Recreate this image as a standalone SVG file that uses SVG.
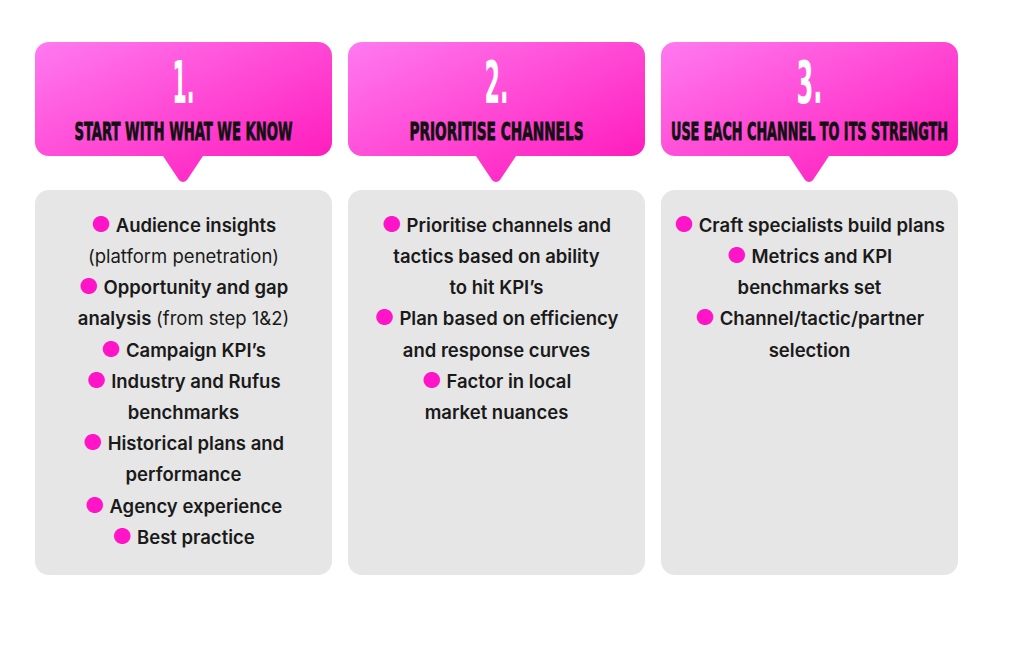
<svg xmlns="http://www.w3.org/2000/svg" width="1024" height="660" viewBox="0 0 1024 660">
<defs>
<linearGradient id="g" x1="0" y1="0" x2="1" y2="1">
<stop offset="0" stop-color="#ff7af0"/><stop offset="1" stop-color="#ff14b8"/>
</linearGradient>
<path id="hdr" d="M14,0 H283 A14,14 0 0 1 297,14 V100 A14,14 0 0 1 283,114 H168 L152,138 Q148,142 144,138 L128,114 H14 A14,14 0 0 1 0,100 V14 A14,14 0 0 1 14,0 Z" fill="url(#g)"/>
</defs>
<style>
.bg{fill:#fff}
.body{fill:#e6e6e6}
.num{font-family:"DejaVu Sans Condensed","DejaVu Sans",sans-serif;font-stretch:condensed;font-weight:bold;font-size:58px;fill:#fff;text-anchor:middle}
.ttl{font-family:"DejaVu Sans Condensed","DejaVu Sans",sans-serif;font-stretch:condensed;font-weight:bold;font-size:25px;fill:#111;stroke:#111;stroke-width:0.8;text-anchor:middle}
.t{font-family:Inter,"Liberation Sans",sans-serif;font-weight:600;font-size:18.5px;fill:#1a1a1a;text-anchor:middle}
.r{font-weight:400}
.b{fill:#ff14c8;font-size:22px;font-weight:400}
</style>
<rect class="bg" width="1024" height="660"/>
<g id="col1">
<use href="#hdr" x="35" y="42"/>
<text class="num" x="183.5" y="103" textLength="22" lengthAdjust="spacingAndGlyphs">1.</text>
<text class="ttl" x="183.5" y="140" textLength="218" lengthAdjust="spacingAndGlyphs">START WITH WHAT WE KNOW</text>
<rect class="body" x="35" y="190" width="297" height="385" rx="14"/>
<text class="t" x="183.5" y="232"><tspan class="b">●</tspan> Audience insights</text>
<text class="t r" x="183.5" y="263">(platform penetration)</text>
<text class="t" x="183.5" y="294"><tspan class="b">●</tspan> Opportunity and gap</text>
<text class="t" x="183.5" y="325">analysis <tspan class="r">(from step 1&amp;2)</tspan></text>
<text class="t" x="183.5" y="357"><tspan class="b">●</tspan> Campaign KPI’s</text>
<text class="t" x="183.5" y="388"><tspan class="b">●</tspan> Industry and Rufus</text>
<text class="t" x="183.5" y="419">benchmarks</text>
<text class="t" x="183.5" y="450"><tspan class="b">●</tspan> Historical plans and</text>
<text class="t" x="183.5" y="481">performance</text>
<text class="t" x="183.5" y="513"><tspan class="b">●</tspan> Agency experience</text>
<text class="t" x="183.5" y="544"><tspan class="b">●</tspan> Best practice</text>
</g>
<g id="col2">
<use href="#hdr" x="348" y="42"/>
<text class="num" x="496.5" y="103" textLength="24" lengthAdjust="spacingAndGlyphs">2.</text>
<text class="ttl" x="496.5" y="140" textLength="174" lengthAdjust="spacingAndGlyphs">PRIORITISE CHANNELS</text>
<rect class="body" x="348" y="190" width="297" height="385" rx="14"/>
<text class="t" x="496.5" y="232"><tspan class="b">●</tspan> Prioritise channels and</text>
<text class="t" x="496.5" y="263">tactics based on ability</text>
<text class="t" x="496.5" y="294">to hit KPI’s</text>
<text class="t" x="496.5" y="325"><tspan class="b">●</tspan> Plan based on efficiency</text>
<text class="t" x="496.5" y="357">and response curves</text>
<text class="t" x="496.5" y="388"><tspan class="b">●</tspan> Factor in local</text>
<text class="t" x="496.5" y="419">market nuances</text>
</g>
<g id="col3">
<use href="#hdr" x="661" y="42"/>
<text class="num" x="809.5" y="103" textLength="26" lengthAdjust="spacingAndGlyphs">3.</text>
<text class="ttl" x="809.5" y="140" textLength="277" lengthAdjust="spacingAndGlyphs">USE EACH CHANNEL TO ITS STRENGTH</text>
<rect class="body" x="661" y="190" width="297" height="385" rx="14"/>
<text class="t" x="809.5" y="232"><tspan class="b">●</tspan> Craft specialists build plans</text>
<text class="t" x="809.5" y="263"><tspan class="b">●</tspan> Metrics and KPI</text>
<text class="t" x="809.5" y="294">benchmarks set</text>
<text class="t" x="809.5" y="325"><tspan class="b">●</tspan> Channel/tactic/partner</text>
<text class="t" x="809.5" y="357">selection</text>
</g>
<g id="connectors"/>
</svg>
